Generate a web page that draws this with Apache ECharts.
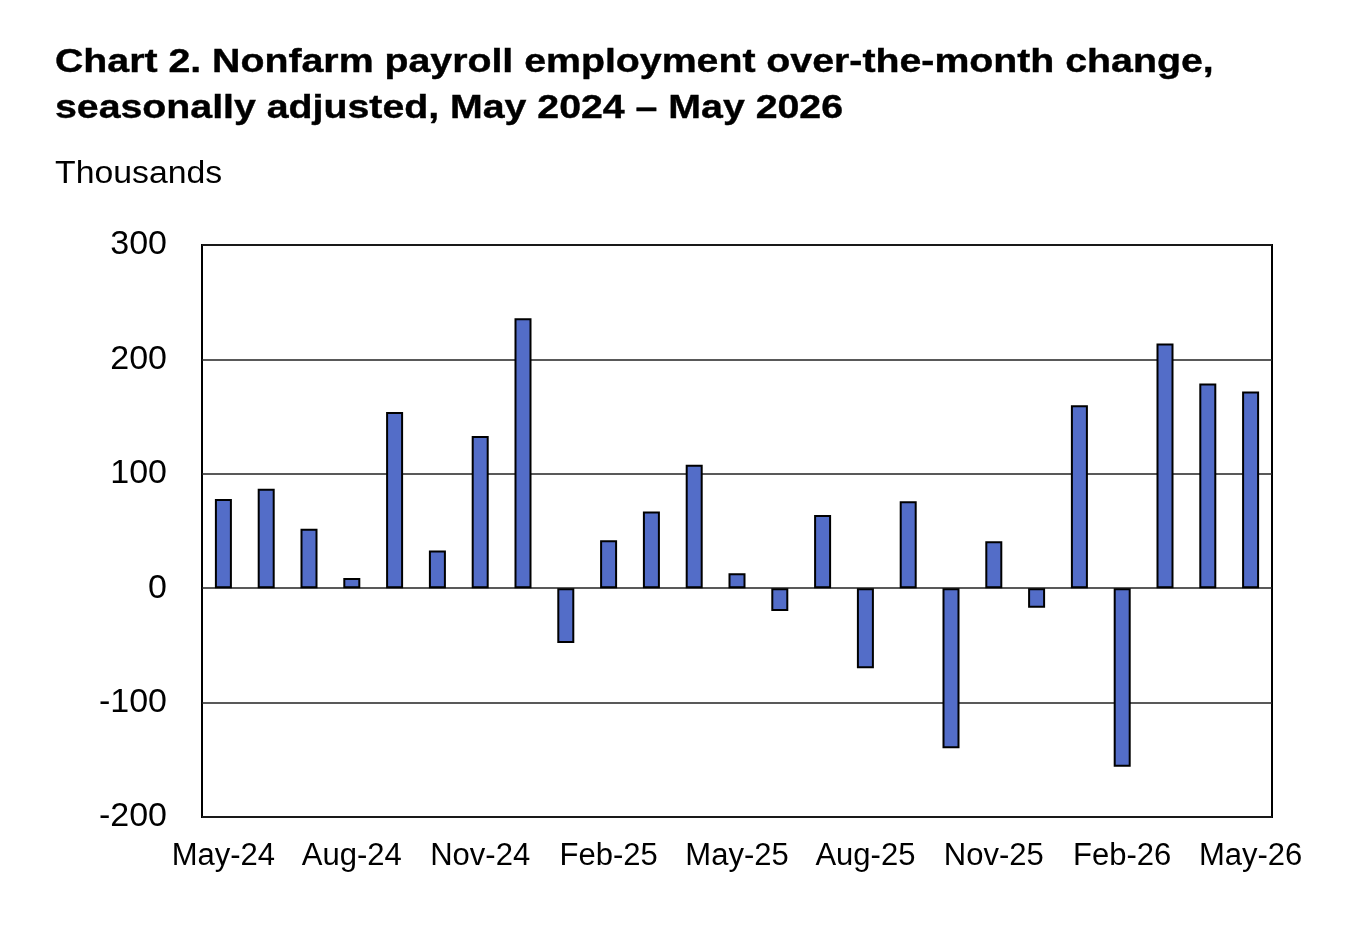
<!DOCTYPE html>
<html>
<head>
<meta charset="utf-8">
<script src="https://cdn.jsdelivr.net/npm/echarts@6/dist/echarts.min.js"></script>
<style>
  html, body { margin: 0; padding: 0; background: #fff; }
  #chart { width: 1358px; height: 944px; }
</style>
</head>
<body>
<div id="chart"></div>
<script>
// months May-24 .. May-26
var months = ['May-24','Jun-24','Jul-24','Aug-24','Sep-24','Oct-24','Nov-24','Dec-24',
  'Jan-25','Feb-25','Mar-25','Apr-25','May-25','Jun-25','Jul-25','Aug-25','Sep-25','Oct-25',
  'Nov-25','Dec-25','Jan-26','Feb-26','Mar-26','Apr-26','May-26'];
// over-the-month change, thousands
var changes = [78, 87, 52, 9, 154, 33, 133, 236,
  -48, 42, 67, 108, 13, -20, 64, -70, 76, -140,
  41, -17, 160, -156, 214, 179, 172];
var yTicks = { min: -200, max: 300, step: 100 };

var titleText = 'Chart 2. Nonfarm payroll employment over-the-month change,\nseasonally adjusted, May 2024 \u2013 May 2026';
var unitText = 'Thousands';

var font = '"Liberation Sans", Arial, Helvetica, sans-serif';
var chart = echarts.init(document.getElementById('chart'));

chart.setOption({
  animation: false,
  backgroundColor: '#fff',
  // the source text is a little wider than plain Arial, so stretch it a bit
  graphic: [
    {
      type: 'text',
      x: 55,
      y: 40,
      scaleX: 1.155,
      style: {
        text: titleText,
        font: 'bold 34px ' + font,
        fill: '#000',
        stroke: '#000',
        lineWidth: 0.4,
        lineHeight: 46,
        verticalAlign: 'top'
      }
    },
    {
      type: 'text',
      x: 55,
      y: 159,
      scaleX: 1.09,
      style: {
        text: unitText,
        font: '31px ' + font,
        fill: '#000',
        verticalAlign: 'top'
      }
    }
  ],
  grid: {
    left: 202,
    right: 86,
    top: 245,
    bottom: 127,
    show: true,
    borderColor: '#000',
    borderWidth: 2,
    backgroundColor: 'transparent'
  },
  xAxis: {
    type: 'category',
    data: months,
    boundaryGap: true,
    axisLine: { show: false, onZero: false },
    axisTick: { show: false },
    axisLabel: {
      interval: 2,
      margin: 24,
      fontFamily: font,
      fontSize: 31,
      color: '#000'
    },
    splitLine: { show: false }
  },
  yAxis: {
    type: 'value',
    min: yTicks.min,
    max: yTicks.max,
    interval: yTicks.step,
    axisLine: { show: false },
    axisTick: { show: false },
    axisLabel: {
      margin: 35,
      fontFamily: font,
      fontSize: 34,
      color: '#000'
    },
    splitLine: { show: true, lineStyle: { color: '#222', width: 1.5 } }
  },
  series: [
    {
      type: 'bar',
      data: changes,
      barWidth: 17,
      itemStyle: {
        color: '#536DC8',
        borderColor: '#000',
        borderWidth: 2
      }
    }
  ]
});
</script>
</body>
</html>
